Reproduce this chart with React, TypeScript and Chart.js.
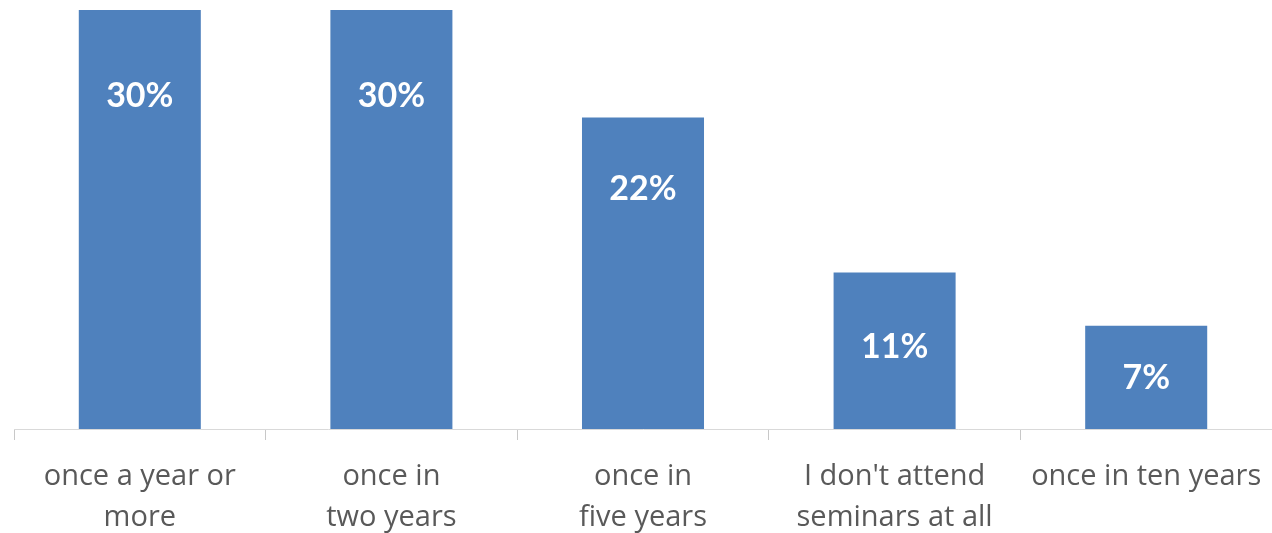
import React, { useEffect, useRef } from "react";
import { Chart, registerables } from "chart.js";

Chart.register(...registerables);

const categories: string[][] = [
  ["once a year or", "more"],
  ["once in", "two years"],
  ["once in", "five years"],
  ["I don't attend", "seminars at all"],
  ["once in ten years"],
];
const values: number[] = [30, 30, 22.3, 11.2, 7.4];
const valueLabels: string[] = ["30%", "30%", "22%", "11%", "7%"];
const labelOffsets: number[] = [86, 86, 71, 74, 52];

const barLabelPlugin = {
  id: "barLabels",
  afterDatasetsDraw(chart: any) {
    const ctx = chart.ctx;
    const meta = chart.getDatasetMeta(0);
    ctx.save();
    ctx.fillStyle = "#ffffff";
    ctx.font = "bold 34px Lato";
    ctx.textAlign = "center";
    ctx.textBaseline = "middle";
    meta.data.forEach((bar: any, i: number) => {
      ctx.fillText(valueLabels[i], bar.x, bar.y + labelOffsets[i]);
    });
    ctx.restore();
  },
};

export default function App() {
  const ref = useRef<HTMLCanvasElement>(null);
  useEffect(() => {
    if (!ref.current) return;
    const chart = new Chart(ref.current, {
      type: "bar",
      data: {
        labels: categories,
        datasets: [
          {
            data: values,
            backgroundColor: "#4f81bd",
            borderWidth: 0,
            categoryPercentage: 1,
            barPercentage: 0.485,
          },
        ],
      },
      options: {
        animation: false,
        responsive: false,
        maintainAspectRatio: false,
        layout: { padding: { left: 14, right: 0, top: 10, bottom: 0 } },
        plugins: {
          legend: { display: false },
          tooltip: { enabled: false },
        },
        scales: {
          x: {
            offset: true,
            grid: {
              display: true,
              offset: true,
              drawOnChartArea: false,
              drawTicks: true,
              tickLength: 11,
              color: "#c8c8c8",
            },
            border: { display: true, color: "#d9d9d9", width: 1 },
            ticks: {
              color: "#595959",
              font: { family: "Open Sans", size: 29, lineHeight: 41 / 29 },
              padding: 16,
              maxRotation: 0,
              autoSkip: false,
            },
            afterFit: (scale: any) => {
              scale.height = 104;
              scale.paddingLeft = 0;
              scale.paddingRight = 0;
            },
          },
          y: {
            display: false,
            min: 0,
            max: 30,
          },
        },
      },
      plugins: [barLabelPlugin],
    });
    return () => chart.destroy();
  }, []);
  return (
    <div style={{ position: "fixed", left: 0, top: 0, width: 1272, height: 533, background: "#fff" }}>
      <canvas ref={ref} width={1272} height={533} style={{ width: 1272, height: 533 }} />
    </div>
  );
}
